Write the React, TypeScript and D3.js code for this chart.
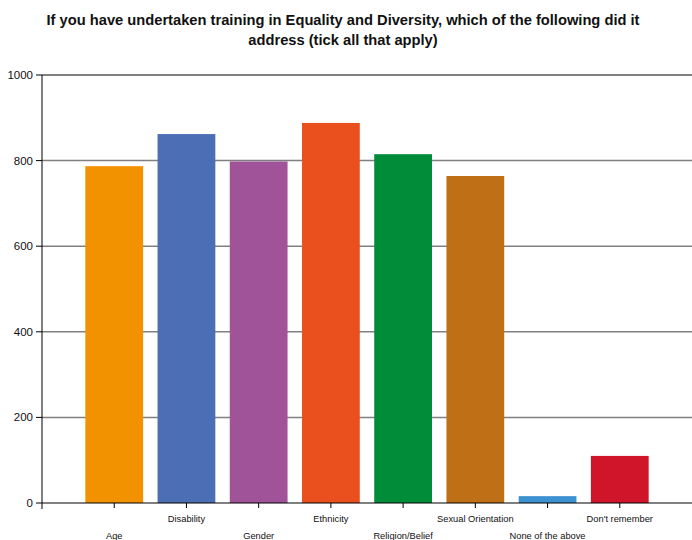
import React from "react";
import * as d3 from "d3";

const categories = [
  "Age",
  "Disability",
  "Gender",
  "Ethnicity",
  "Religion/Belief",
  "Sexual Orientation",
  "None of the above",
  "Don't remember",
];
const values = [787, 862, 798, 888, 815, 764, 16, 110];
const colors = ["#f39200", "#4c6eb4", "#a05399", "#e9501e", "#008c39", "#bf6f16", "#3c91d0", "#d0152a"];
const yTicks = [0, 200, 400, 600, 800, 1000];
const titleLines = [
  "If you have undertaken training in Equality and Diversity, which of the following did it",
  "address (tick all that apply)",
];

const W = 692;
const H = 540;
const left = 42;
const right = 692;
const top = 75;
const bottom = 503;

export default function App() {
  const step = (right - left) / 9;
  const x = d3
    .scaleBand<string>()
    .domain(categories)
    .range([left + step / 2, left + step / 2 + step * categories.length])
    .paddingInner(0.2)
    .paddingOuter(0.1);
  const y = d3.scaleLinear().domain([0, 1000]).range([bottom, top]);
  const font = "'Liberation Sans', Arial, Helvetica, sans-serif";

  return (
    <svg
      width={W}
      height={H}
      style={{ position: "absolute", left: 0, top: 0, display: "block", background: "#fff" }}
    >
      {titleLines.map((t, i) => (
        <text
          key={i}
          x={343}
          y={25 + i * 20}
          textAnchor="middle"
          fontFamily={font}
          fontWeight="bold"
          fontSize={14.7}
          fill="#111"
        >
          {t}
        </text>
      ))}
      {yTicks.map((t) => (
        <g key={t}>
          {t > 0 && (
            <line
              x1={left}
              x2={right}
              y1={y(t)}
              y2={y(t)}
              stroke={t === 1000 ? "#000" : "#808080"}
              strokeWidth={t === 1000 ? 1 : 1.5}
            />
          )}
          <line x1={left - 6} x2={left} y1={y(t)} y2={y(t)} stroke="#000" strokeWidth={1} />
          <text
            x={left - 9}
            y={y(t)}
            dy="0.35em"
            textAnchor="end"
            fontFamily={font}
            fontSize={11.5}
            fill="#111"
          >
            {t}
          </text>
        </g>
      ))}
      {categories.map((c, i) => (
        <rect
          key={c}
          x={x(c)}
          width={x.bandwidth()}
          y={y(values[i])}
          height={y(0) - y(values[i])}
          fill={colors[i]}
        />
      ))}
      <line x1={left} x2={left} y1={top} y2={bottom + 6} stroke="#000" strokeWidth={1} />
      <line x1={left} x2={right} y1={bottom} y2={bottom} stroke="#000" strokeWidth={1} />
      {categories.map((c, i) => {
        const cx = (x(c) as number) + x.bandwidth() / 2;
        return (
          <g key={c}>
            <line x1={cx} x2={cx} y1={bottom} y2={bottom + 5} stroke="#000" strokeWidth={1} />
            <text
              x={cx}
              y={i % 2 === 1 ? 522 : 539}
              textAnchor="middle"
              fontFamily={font}
              fontSize={9.3}
              fill="#111"
            >
              {c}
            </text>
          </g>
        );
      })}
    </svg>
  );
}
